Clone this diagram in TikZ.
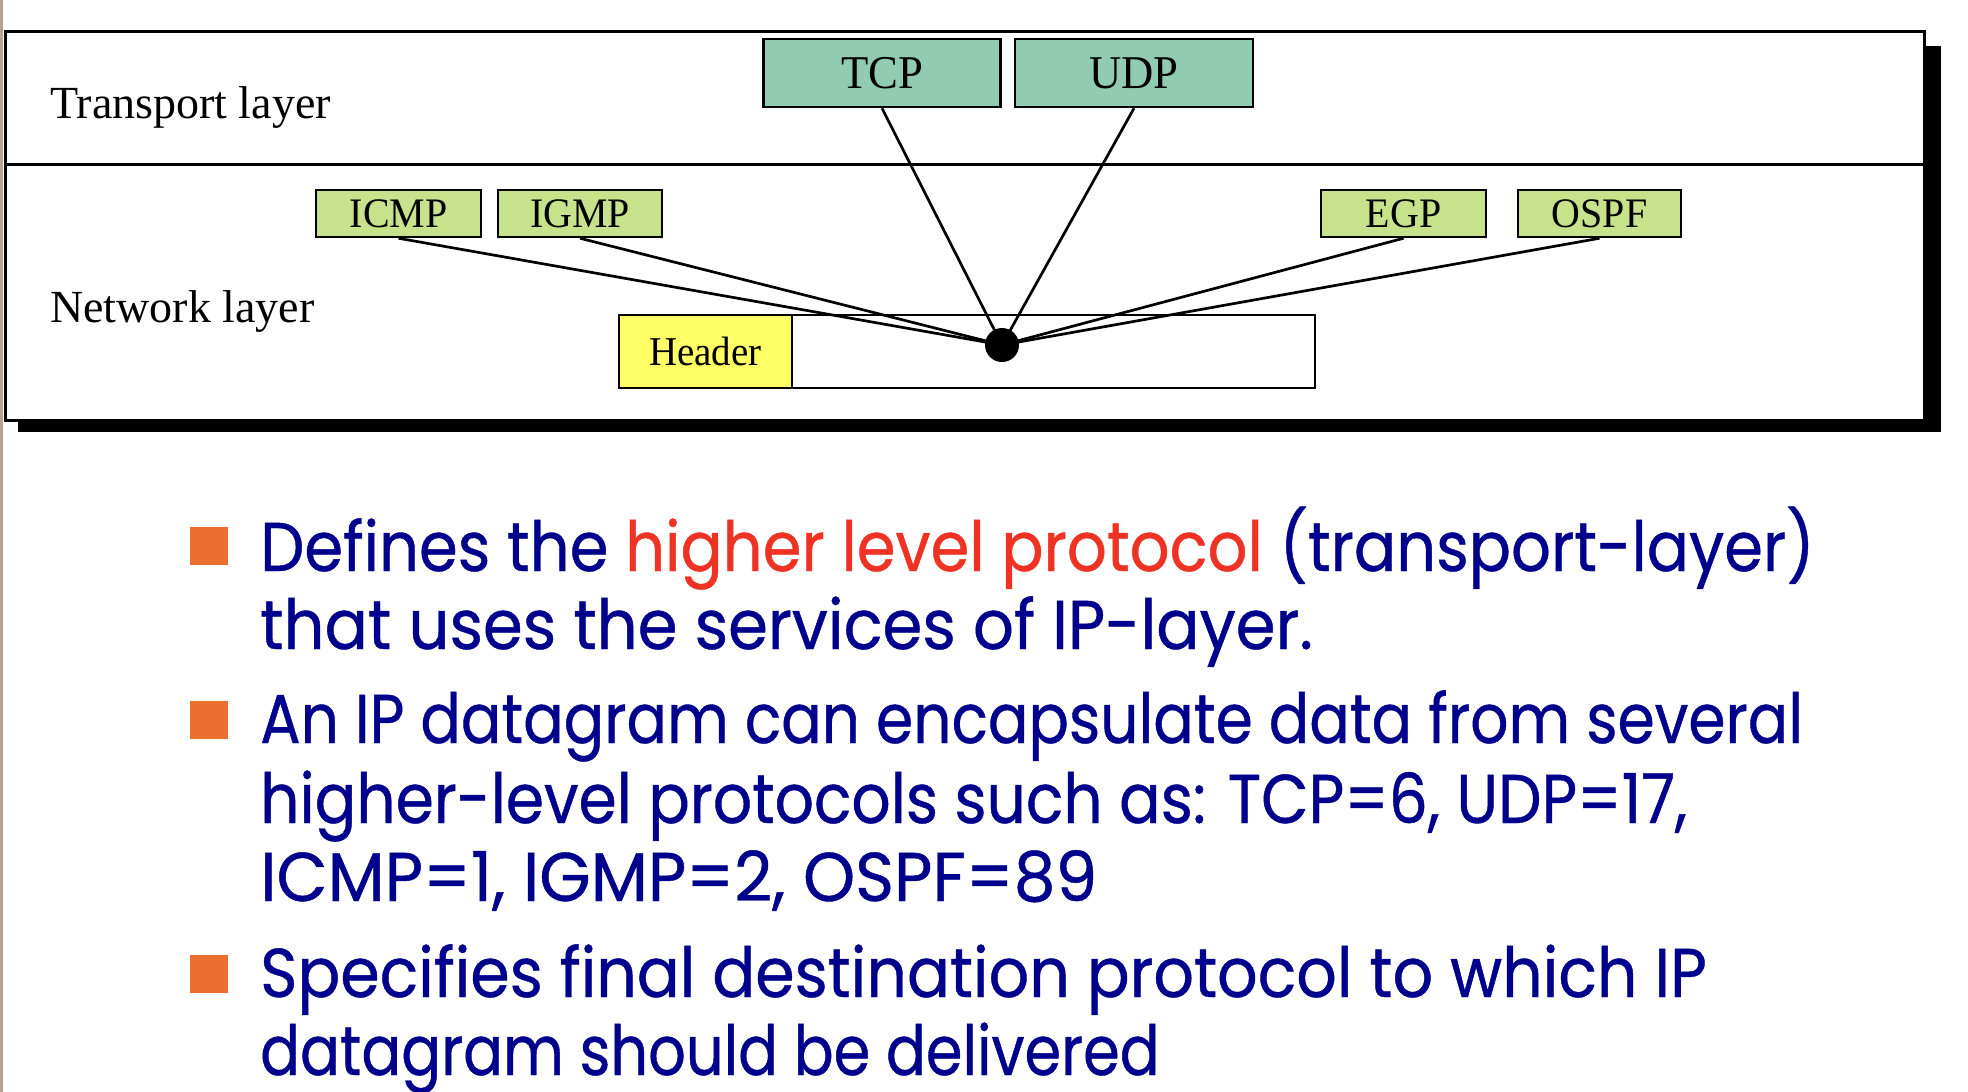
\documentclass[tikz,border=0pt]{standalone}
\usepackage{fontspec}
\setmainfont{Liberation Serif}
\newfontfamily\boxfont{Liberation Serif}[FakeStretch=0.95]
\newfontfamily\comic{Poppins}[FakeStretch=0.9, FakeBold=0.6]
\definecolor{tealbox}{HTML}{91CBB2}
\definecolor{greenbox}{HTML}{C8E28C}
\definecolor{hdryellow}{HTML}{FFFF66}
\definecolor{bulletorange}{HTML}{EB7030}
\definecolor{textblue}{HTML}{00008C}
\definecolor{textred}{HTML}{EE3224}
\definecolor{edgebrown}{HTML}{B8A48E}
\tikzset{
  protobox/.style={draw=black, line width=2.5pt, inner sep=0pt, anchor=center},
  transbox/.style={protobox, fill=tealbox, minimum width=237pt, minimum height=68pt, font=\boxfont\fontsize{47}{50}\selectfont},
  netbox/.style={protobox, fill=greenbox, minimum width=164pt, minimum height=47pt, font=\boxfont\fontsize{42}{45}\selectfont},
  layerlabel/.style={anchor=base west, inner sep=0pt, font=\fontsize{46}{50}\selectfont},
  conn/.style={line width=2.7pt, black},
  bulletsq/.style={fill=bulletorange, draw=none, minimum width=38pt, minimum height=38pt, inner sep=0pt, anchor=north west},
  bodyline/.style={anchor=base west, inner sep=0pt, text=textblue, font=\comic\fontsize{69}{78}\selectfont}
}
\begin{document}
\begin{tikzpicture}[x=1pt,y=-1pt]
\useasboundingbox (0,0) rectangle (1968,1092);
\fill[white] (0,0) rectangle (1968,1092);
\fill[edgebrown] (0,0) rectangle (2.5,1092);
% shadow and outer frame
\fill[black] (18,46) rectangle (1941,432);
\draw[line width=3pt, fill=white] (5,31) rectangle (1924,420);
\coordinate (sepL) at (5,164);
\coordinate (sepR) at (1924,164);
\draw[line width=3pt] (sepL) -- (sepR);
% layer labels
\node[layerlabel] (tl) at (50,118) {Transport layer};
\node[layerlabel] (nl) at (50,322) {Network layer};
% transport protocols
\node[transbox] (tcp) at (882,73) {TCP};
\node[transbox, minimum width=238pt] (udp) at (1134,73) {UDP};
% network-layer protocols
\node[netbox, minimum width=165pt] (icmp) at (398.5,213.5) {ICMP};
\node[netbox] (igmp) at (580,213.5) {IGMP};
\node[netbox, minimum width=165pt] (egp) at (1403.5,213.5) {EGP};
\node[netbox, minimum width=163pt] (ospf) at (1599.5,213.5) {OSPF};
% datagram
\node[protobox, fill=white, minimum width=523pt, minimum height=73pt] (body) at (1053.5,351.5) {};
\node[protobox, fill=hdryellow, minimum width=173pt, minimum height=73pt, font=\boxfont\fontsize{41}{44}\selectfont] (hdr) at (705.5,351.5) {Header};
\node[circle, fill=black, minimum size=34pt, inner sep=0pt] (dot) at (1002,345) {};
% connectors
\draw[conn] (tcp.south) -- (dot.center);
\draw[conn] (udp.south) -- (dot.center);
\draw[conn] (icmp.south) -- (dot.center);
\draw[conn] (igmp.south) -- (dot.center);
\draw[conn] (egp.south) -- (dot.center);
\draw[conn] (ospf.south) -- (dot.center);
% bullets
\node[bulletsq] (b1) at (190,527) {};
\node[bulletsq] (b2) at (190,701) {};
\node[bulletsq] (b3) at (190,955) {};
% body text
\node[bodyline] (l1) at (260,571) {\scalebox{1.006}[1]{Defines the \textcolor{textred}{higher level protocol} (transport-layer)}};
\node[bodyline] (l2) at (260,649) {\scalebox{1.033}[1]{that uses the services of IP-layer.}};
\node[bodyline] (l3) at (260,743) {\scalebox{0.965}[1]{An IP datagram can encapsulate data from several}};
\node[bodyline] (l4) at (260,823) {\scalebox{0.991}[1]{higher-level protocols such as: TCP=6, UDP=17,}};
\node[bodyline] (l5) at (260,901) {\scalebox{1.067}[1]{ICMP=1, IGMP=2, OSPF=89}};
\node[bodyline] (l6) at (260,997) {\scalebox{1.022}[1]{Specifies final destination protocol to which IP}};
\node[bodyline] (l7) at (260,1075) {\scalebox{0.95}[1]{datagram should be delivered}};
\end{tikzpicture}
\end{document}
